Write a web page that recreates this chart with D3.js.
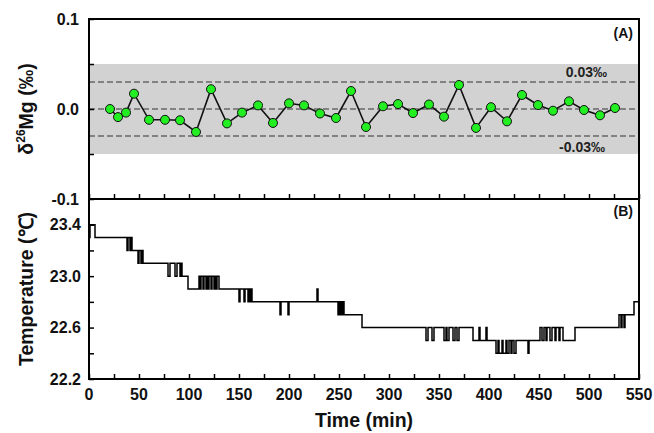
<!DOCTYPE html>
<html><head><meta charset="utf-8">
<script src="https://cdn.jsdelivr.net/npm/d3@7"></script>
<style>body{margin:0;background:#fff}svg{display:block}text{font-family:Arial,"Liberation Sans",sans-serif;font-weight:bold}</style>
</head><body><svg id="c" width="654" height="433"></svg>
<script>
// Panel A: delta26Mg data
const magTimes = [21,29,37,45,60,76,91,107,122,138,153,169,184,200,215,231,247,262,277,294,309,324,340,355,370,387,402,418,433,449,464,480,495,511,526];
const magValues = [0.000,-0.009,-0.004,0.017,-0.012,-0.012,-0.0125,-0.0255,0.022,-0.016,-0.004,0.004,-0.0155,0.0063,0.004,-0.005,-0.010,0.020,-0.020,0.003,0.0055,-0.0045,0.005,-0.0085,0.0267,-0.021,0.002,-0.0137,0.0156,0.0044,-0.0019,0.0085,-0.0011,-0.007,0.0011];
const bandLimits = [-0.05, 0.05];
const dashedLevels = [-0.03, 0, 0.03];
const magTicks = [-0.1, -0.05, 0, 0.05, 0.1];
const magTickLabels = ["-0.1", "", "0.0", "", "0.1"];

// Panel B: temperature step record (change points)
const tempTimes = [0,1,6,38,39,41,42,43,49,50,52,53,54,79,81,86,88,91,92,93,99,
  110,111,112,114,115,117,118,119,120,122,123,125,126,127,128,130,
  150,151,155,156,159,160,161,162,163,
  191,192,199,200,228,229,249,250,251,252,253,254,255,273,
  337,339,343,345,355,357,358,360,364,366,368,370,384,390,391,397,398,
  407,409,410,413,414,417,418,420,422,423,425,427,439,440,
  451,453,455,457,458,461,463,466,467,470,471,474,486,
  530,532,533,535,536,545,549];
const tempValues = [23.3,23.4,23.3,23.2,23.3,23.2,23.3,23.2,23.1,23.2,23.1,23.2,23.1,23.0,23.1,23.0,23.1,23.0,23.1,23.0,22.9,
  23.0,22.9,23.0,22.9,23.0,22.9,23.0,22.9,23.0,22.9,23.0,22.9,23.0,22.9,23.0,22.9,
  22.8,22.9,22.8,22.9,22.8,22.9,22.8,22.9,22.8,
  22.7,22.8,22.7,22.8,22.9,22.8,22.7,22.8,22.7,22.8,22.7,22.8,22.7,22.6,
  22.5,22.6,22.5,22.6,22.5,22.6,22.5,22.6,22.5,22.6,22.5,22.6,22.5,22.6,22.5,22.6,22.5,
  22.4,22.5,22.4,22.5,22.4,22.5,22.4,22.5,22.4,22.5,22.4,22.5,22.4,22.5,
  22.6,22.5,22.6,22.5,22.6,22.5,22.6,22.5,22.6,22.5,22.6,22.5,22.6,
  22.7,22.6,22.7,22.6,22.7,22.8,22.8];
const tempTicks = [22.2, 22.6, 23.0, 23.4];
const tempMinorTicks = [22.4, 22.8, 23.2];
const timeTicks = [0,50,100,150,200,250,300,350,400,450,500,550];
const timeMinorTicks = [25,75,125,175,225,275,325,375,425,475,525];

const svg = d3.select("#c");
const L = 89, R = 639, TA = 19, MID = 199, BB = 379;
const x = d3.scaleLinear().domain([0, 550]).range([L, R]);
const yA = d3.scaleLinear().domain([-0.1, 0.1]).range([MID, TA]);
const yB = d3.scaleLinear().domain([22.2, 23.6]).range([BB, MID]);

// band
svg.append("rect").attr("x", L).attr("width", R - L)
  .attr("y", yA(bandLimits[1])).attr("height", yA(bandLimits[0]) - yA(bandLimits[1]))
  .attr("fill", "#d2d2d2");
svg.selectAll(".dash").data(dashedLevels).enter().append("line")
  .attr("x1", L).attr("x2", R).attr("y1", d => yA(d)).attr("y2", d => yA(d))
  .attr("stroke", "#333").attr("stroke-width", 1).attr("stroke-dasharray", "6,3");

// line + points
const magData = magTimes.map((t, i) => [t, magValues[i]]);
svg.append("path").datum(magData)
  .attr("d", d3.line().x(d => x(d[0])).y(d => yA(d[1])))
  .attr("fill", "none").attr("stroke", "#111").attr("stroke-width", 1.6);
svg.selectAll(".pt").data(magData).enter().append("circle")
  .attr("cx", d => x(d[0])).attr("cy", d => yA(d[1])).attr("r", 4.5)
  .attr("fill", "#22ee22").attr("stroke", "#111").attr("stroke-width", 1);

// temperature
const tempData = tempTimes.map((t, i) => [t, tempValues[i]]);
svg.append("path").datum(tempData)
  .attr("d", d3.line().curve(d3.curveStepAfter).x(d => x(d[0])).y(d => yB(d[1])))
  .attr("fill", "none").attr("stroke", "#000").attr("stroke-width", 1.5);

// axes with inward ticks
function inward(g){ g.select(".domain").remove(); g.selectAll(".tick text").remove(); g.selectAll(".tick line").attr("stroke","#000").attr("stroke-width",1.5); }
svg.append("g").attr("transform", `translate(${L},0)`)
  .call(d3.axisRight(yA).tickValues(magTicks).tickSize(5).tickFormat("")).call(inward);
svg.append("g").attr("transform", `translate(${L},0)`)
  .call(d3.axisRight(yB).tickValues(tempTicks.concat(tempMinorTicks)).tickSize(5).tickFormat("")).call(inward);
[MID, BB].forEach(yy => {
  svg.append("g").attr("transform", `translate(0,${yy})`)
    .call(d3.axisTop(x).tickValues(timeTicks.concat(timeMinorTicks)).tickSize(5).tickFormat("")).call(inward);
});

// frames
svg.append("rect").attr("x", L).attr("y", TA).attr("width", R - L).attr("height", MID - TA)
  .attr("fill", "none").attr("stroke", "#000").attr("stroke-width", 2);
svg.append("rect").attr("x", L).attr("y", MID).attr("width", R - L).attr("height", BB - MID)
  .attr("fill", "none").attr("stroke", "#000").attr("stroke-width", 2);

// tick labels
svg.selectAll(".ya").data(magTicks.map((v, i) => [v, magTickLabels[i]]).filter(d => d[1])).enter().append("text")
  .attr("x", 79).attr("y", d => yA(d[0]) + 5.5).attr("text-anchor", "end").attr("font-size", 16).attr("fill", "#111").text(d => d[1]);
svg.selectAll(".yb").data(tempTicks).enter().append("text")
  .attr("x", 81).attr("y", d => yB(d) + 5.5).attr("text-anchor", "end").attr("font-size", 16).attr("fill", "#111").text(d => d3.format(".1f")(d));
svg.selectAll(".xt").data(timeTicks).enter().append("text")
  .attr("x", d => x(d)).attr("y", 400).attr("text-anchor", "middle").attr("font-size", 16).attr("fill", "#111").text(d => d);

// axis titles
svg.append("text").attr("x", 364).attr("y", 427).attr("text-anchor", "middle").attr("font-size", 19.5).attr("fill", "#111").text("Time (min)");
const ta = svg.append("text").attr("transform", `translate(33,${(TA + MID) / 2}) rotate(-90)`).attr("text-anchor", "middle").attr("font-size", 19.5).attr("fill", "#111");
ta.append("tspan").text("δ");
ta.append("tspan").attr("font-size", 12).attr("dy", -8).text("26");
ta.append("tspan").attr("dy", 8).text("Mg (‰)");
svg.append("text").attr("transform", `translate(33,${(MID + BB) / 2}) rotate(-90)`).attr("text-anchor", "middle").attr("font-size", 19.5).attr("fill", "#111").text("Temperature (℃)");

// annotations
svg.append("text").attr("x", 633).attr("y", 38).attr("text-anchor", "end").attr("font-size", 14).attr("fill", "#111").text("(A)");
svg.append("text").attr("x", 633).attr("y", 216).attr("text-anchor", "end").attr("font-size", 14).attr("fill", "#111").text("(B)");
svg.append("text").attr("x", 607).attr("y", 77).attr("text-anchor", "end").attr("font-size", 14).attr("fill", "#222").text("0.03‰");
svg.append("text").attr("x", 605).attr("y", 152).attr("text-anchor", "end").attr("font-size", 14).attr("fill", "#222").text("-0.03‰");
</script></body></html>
